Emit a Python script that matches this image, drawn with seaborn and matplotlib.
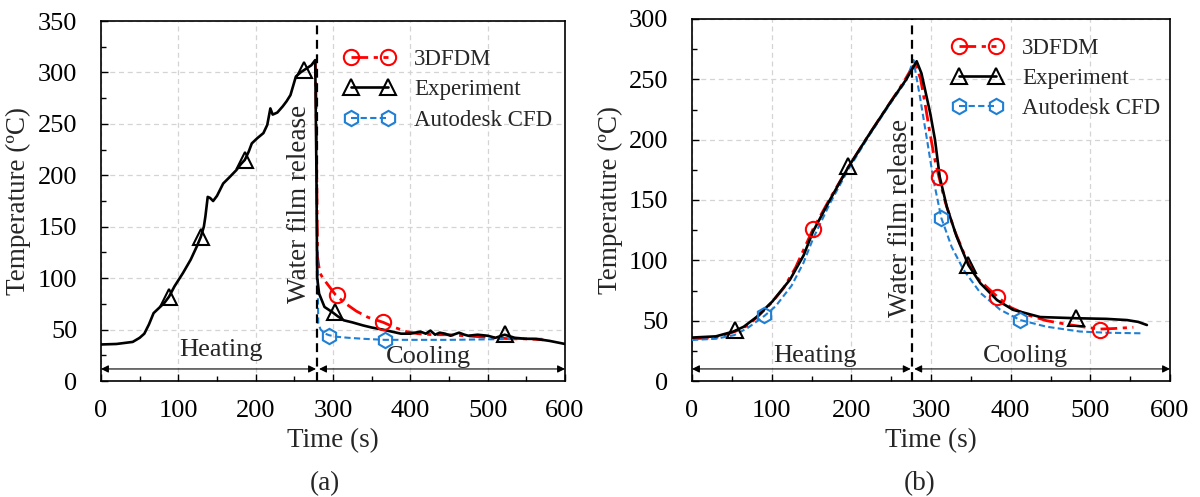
import numpy as np
import matplotlib
matplotlib.use("Agg")
import matplotlib.pyplot as plt
import seaborn as sns
from matplotlib.lines import Line2D
from matplotlib.legend_handler import HandlerLine2D
from matplotlib.ticker import MultipleLocator

sns.set_style("ticks")
plt.rcParams['font.family'] = ['Liberation Serif', 'DejaVu Serif']

# ---------------- Panel (a) data ----------------
exp_a_t = [0, 20, 41, 50, 56, 62, 68, 75, 82, 88, 95, 106, 116, 124, 129, 133, 135, 138, 141, 145,
           150, 158, 166, 175, 181, 186, 191, 195, 202, 210, 215, 219, 222, 228, 235, 240, 245, 252,
           258, 262, 268, 272, 277, 278.5, 279.5, 282, 289, 299, 306, 314, 325, 339, 350, 364, 376,
           388, 400, 413, 420, 426, 432, 438, 445, 452, 463, 470, 475, 487, 500, 510, 522, 535, 550,
           562, 580, 600]
exp_a_y = [35.5, 36, 38, 42, 46, 55, 66, 71, 76, 82, 92, 105, 118, 131, 140, 150, 160, 179, 178, 175,
           180, 192, 198, 205, 211, 215, 223, 231, 236, 241, 249, 265, 259, 261, 267, 272, 278, 296,
           300, 302, 305, 307, 312, 208, 101, 85, 72, 67, 63, 59, 57, 54, 52, 50, 48,
           46, 46, 48, 46, 49, 45, 47, 46, 44, 47, 45, 44, 45, 44, 42, 45, 42, 41,
           41, 39, 36]
fdm_a_t = [277, 278, 279, 280, 283, 287, 295, 303, 315, 330, 345, 365, 380, 395, 410, 430, 450, 470,
           490, 510, 530, 550, 572]
fdm_a_y = [312, 280, 200, 120, 105, 100, 92, 84, 76, 68, 62, 57, 52, 48, 46, 45, 45, 44,
           43, 42, 41, 41, 40]
cfd_a_t = [280, 280.5, 281, 284, 290, 295, 305, 320, 340, 367, 400, 450, 500, 540, 572]
cfd_a_y = [127, 80, 56, 50, 46, 44.5, 43, 42, 41, 40, 40, 40, 40.5, 41, 41]

exp_a_mk_t = [88, 129, 186, 263, 303, 523]
exp_a_mk_y = [82, 140, 215, 302, 67, 46]
fdm_a_mk_t = [305, 365]
fdm_a_mk_y = [84, 57]
cfd_a_mk_t = [295, 367]
cfd_a_mk_y = [44, 40]

# ---------------- Panel (b) data ----------------
exp_b_t = [0, 30, 52, 65, 81, 101, 123, 140, 152, 173, 196, 222, 248, 269, 282, 288, 299, 305, 311,
           320, 332, 347, 362, 383, 403, 437, 483, 520, 546, 560, 571]
exp_b_y = [36, 37, 41, 45, 53, 66, 84, 104, 124, 150, 177, 204, 230, 250, 265, 255, 222, 200, 169,
           144, 120, 96, 81, 67, 59, 53, 52, 51.5, 50.5, 49, 46.4]
fdm_b_t = [0, 30, 54, 70, 85, 100, 115, 130, 152, 173, 196, 222, 248, 265, 280, 287, 293, 298, 304,
           310, 318, 330, 345, 360, 383, 400, 420, 445, 470, 490, 511, 530, 554]
fdm_b_y = [35, 36, 41, 46, 55, 65, 77, 94, 126, 151, 177, 204, 230, 247, 264, 250, 228, 208, 186,
           169, 148, 124, 100, 84, 70, 61, 55, 50, 47, 45, 43, 43.5, 44.5]
cfd_b_t = [0, 30, 53, 70, 91, 105, 125, 140, 152, 173, 196, 222, 248, 269, 278, 286, 295, 303, 313,
           326, 341, 362, 387, 412, 445, 487, 520, 567]
cfd_b_y = [34, 35, 38, 44, 54, 62, 79, 98, 118, 147, 175, 203, 229, 249, 266, 236, 200, 167, 135,
           111, 92, 73, 59, 50.5, 45, 41, 40, 39.5]

exp_b_mk_t = [54, 196, 347, 482]
exp_b_mk_y = [42, 178, 96, 52]
fdm_b_mk_t = [152, 310, 383, 512]
fdm_b_mk_y = [126, 169, 70, 42]
cfd_b_mk_t = [91, 313, 412]
cfd_b_mk_y = [55, 135, 50.5]

labels = ["3DFDM", "Experiment", "Autodesk CFD"]
RED = "#ff0000"
BLK = "#000000"
BLU = "#1f7fd4"
DASHDOT = (0, (6, 2, 1.5, 2))
DASHED = (0, (3, 1.6))

FS_TICK = 19
FS_LAB = 19.5
FS_LEG = 16.5


def draw(ax, exp, fdm, cfd, exp_mk, fdm_mk, cfd_mk, ymax, release, arrow_y, arrow_gap,
         heat_xy, cool_xy, wf_xy, leg_anchor, ylab_x, xlab_y):
    ax.set_axisbelow(True)
    ax.grid(True, which='major', ls=(0, (4, 3)), color='#d4d4d4', lw=0.9)
    sns.lineplot(x=fdm[0], y=fdm[1], ax=ax, color=RED, lw=2.0, linestyle=DASHDOT,
                 estimator=None, sort=False, legend=False, zorder=3)
    sns.lineplot(x=cfd[0], y=cfd[1], ax=ax, color=BLU, lw=1.5, linestyle=DASHED,
                 estimator=None, sort=False, legend=False, zorder=3)
    sns.lineplot(x=exp[0], y=exp[1], ax=ax, color=BLK, lw=1.9, linestyle='-',
                 estimator=None, sort=False, legend=False, zorder=4)
    mk = dict(ls='none', ms=11, mfc='none', mew=1.5, zorder=5)
    ax.plot(fdm_mk[0], fdm_mk[1], marker='o', mec=RED, **mk)
    ax.plot(exp_mk[0], exp_mk[1], marker='^', mec=BLK, **mk)
    ax.plot(cfd_mk[0], cfd_mk[1], marker='h', mec=BLU, **mk)

    ax.axvline(release, color='black', lw=1.6, ls=(0, (4, 2.5)), zorder=6)

    ax.set_xlim(0, 600)
    ax.set_ylim(0, ymax)
    ax.xaxis.set_major_locator(MultipleLocator(100))
    ax.xaxis.set_minor_locator(MultipleLocator(50))
    ax.yaxis.set_major_locator(MultipleLocator(50))
    ax.yaxis.set_minor_locator(MultipleLocator(25))
    ax.tick_params(which='both', direction='in', top=False, right=False, colors='black')
    ax.tick_params(which='major', length=5, width=1.0, labelsize=FS_TICK)
    ax.tick_params(which='minor', length=3.5, width=1.0)
    ax.tick_params(axis='x', which='major', pad=14)
    ax.tick_params(axis='y', which='major', pad=17)
    for s in ax.spines.values():
        s.set_color('black')
        s.set_linewidth(1.2)

    ax.set_xlabel("Time (s)", fontsize=FS_LAB)
    ax.set_ylabel("Temperature (ºC)", fontsize=FS_LAB)
    ax.xaxis.set_label_coords(0.5, xlab_y)
    ax.yaxis.set_label_coords(ylab_x, 0.5)

    ap = dict(arrowstyle='<|-|>', color='black', lw=0.8, mutation_scale=11, shrinkA=0, shrinkB=0)
    ax.annotate('', xy=(0, arrow_y), xytext=(release - arrow_gap[0], arrow_y), arrowprops=ap)
    ax.annotate('', xy=(release + arrow_gap[1], arrow_y), xytext=(600, arrow_y), arrowprops=ap)

    ax.text(heat_xy[0], heat_xy[1], "Heating", ha='center', va='center', fontsize=19)
    ax.text(cool_xy[0], cool_xy[1], "Cooling", ha='center', va='center', fontsize=19)
    ax.text(wf_xy[0], wf_xy[1], "Water film release", ha='center', va='center',
            rotation=90, fontsize=19.5)

    handles = [
        Line2D([], [], color=RED, lw=2.0, ls=DASHDOT, marker='o', ms=11, mfc='none', mec=RED, mew=1.5),
        Line2D([], [], color=BLK, lw=1.9, ls='-', marker='^', ms=11, mfc='none', mec=BLK, mew=1.5),
        Line2D([], [], color=BLU, lw=1.5, ls=DASHED, marker='h', ms=11, mfc='none', mec=BLU, mew=1.5),
    ]
    ax.legend(handles, labels, loc='upper left', bbox_to_anchor=leg_anchor, frameon=False,
              fontsize=FS_LEG, handlelength=3.2, handletextpad=0.35, labelspacing=0.4,
              borderpad=0, borderaxespad=0, numpoints=2,
              handler_map={Line2D: HandlerLine2D(marker_pad=0.8)})


fig = plt.figure(figsize=(12, 4.97), dpi=100)
ax_a = fig.add_axes([101 / 1200, 116 / 497, 464 / 1200, 360 / 497])
ax_b = fig.add_axes([692 / 1200, 116 / 497, 478 / 1200, 362 / 497])

draw(ax_a, (exp_a_t, exp_a_y), (fdm_a_t, fdm_a_y), (cfd_a_t, cfd_a_y),
     (exp_a_mk_t, exp_a_mk_y), (fdm_a_mk_t, fdm_a_mk_y), (cfd_a_mk_t, cfd_a_mk_y),
     ymax=350, release=279.5, arrow_y=11.7, arrow_gap=(1.5, 2.5),
     heat_xy=(155, 30), cool_xy=(423, 23), wf_xy=(257, 172),
     leg_anchor=(0.5, 0.922), ylab_x=-0.15, xlab_y=-0.13)

draw(ax_b, (exp_b_t, exp_b_y), (fdm_b_t, fdm_b_y), (cfd_b_t, cfd_b_y),
     (exp_b_mk_t, exp_b_mk_y), (fdm_b_mk_t, fdm_b_mk_y), (cfd_b_mk_t, cfd_b_mk_y),
     ymax=300, release=276, arrow_y=10, arrow_gap=(1.5, 3.0),
     heat_xy=(154, 21), cool_xy=(419, 21), wf_xy=(262, 135),
     leg_anchor=(0.52, 0.948), ylab_x=-0.145, xlab_y=-0.13)

fig.text(324.5 / 1200, 1 - 484 / 497, "(a)", ha='center', va='center', fontsize=19.5)
fig.text(919.5 / 1200, 1 - 484 / 497, "(b)", ha='center', va='center', fontsize=19.5)

fig.savefig("out.png", dpi=100)
